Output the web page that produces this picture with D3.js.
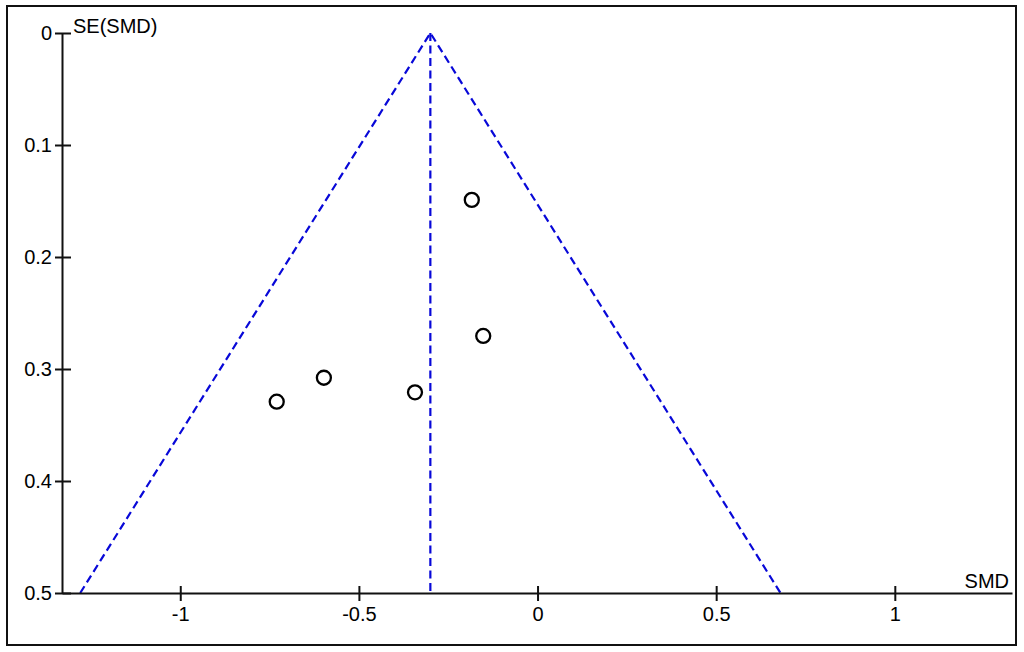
<!DOCTYPE html>
<html><head><meta charset="utf-8">
<script src="https://cdn.jsdelivr.net/npm/d3@7"></script>
<style>body{margin:0;background:#fff}svg{display:block}text{font-family:"Liberation Sans",Arial,sans-serif;fill:#000}</style>
</head><body>
<svg id="c" width="1024" height="652"></svg>
<script>
const smd = [-0.184, -0.152, -0.598, -0.730, -0.343];
const se = [0.149, 0.2705, 0.3078, 0.3292, 0.3208];
const pooled = -0.30;
const xTicks = [-1, -0.5, 0, 0.5, 1];
const xTickLabels = ["-1", "-0.5", "0", "0.5", "1"];
const yTicks = [0, 0.1, 0.2, 0.3, 0.4, 0.5];
const yTickLabels = ["0", "0.1", "0.2", "0.3", "0.4", "0.5"];
const xTitle = "SMD", yTitle = "SE(SMD)";

const svg = d3.select("#c");
svg.append("rect").attr("x", 7).attr("y", 6).attr("width", 1009).attr("height", 639)
  .attr("fill", "none").attr("stroke", "#111").attr("stroke-width", 2);

const x = d3.scaleLinear().domain([-1.331, 1.328]).range([62, 1012]);
const y = d3.scaleLinear().domain([0, 0.5]).range([33, 593]);

const FS = 20;
// funnel
const maxSE = 0.5;
const blue = "#0808d8";
const dash = "8,4.5";
const funnel = [[pooled - 1.96 * maxSE, maxSE], [pooled, 0], [pooled + 1.96 * maxSE, maxSE]];
svg.append("path").attr("d", d3.line().x(d => x(d[0])).y(d => y(d[1]))(funnel))
  .attr("fill", "none").attr("stroke", blue).attr("stroke-width", 2.2).attr("stroke-dasharray", dash);
svg.append("line").attr("x1", x(pooled)).attr("x2", x(pooled)).attr("y1", y(0)).attr("y2", y(maxSE))
  .attr("stroke", blue).attr("stroke-width", 2.2).attr("stroke-dasharray", dash);

// axes
const xAxis = d3.axisBottom(x).tickValues(xTicks).tickFormat((d, i) => xTickLabels[i]).tickSizeInner(8).tickSizeOuter(0).tickPadding(6);
const gx = svg.append("g").attr("transform", `translate(0,${y(0.5)})`).call(xAxis);
gx.select(".domain").attr("stroke", "#111").attr("stroke-width", 2);
gx.selectAll(".tick line").attr("stroke", "#111").attr("stroke-width", 2).attr("y1", -7).attr("y2", 8);
gx.selectAll(".tick text").attr("font-size", FS).attr("fill", "#000");

const yAxis = d3.axisLeft(y).tickValues(yTicks).tickFormat((d, i) => yTickLabels[i]).tickSizeInner(7).tickSizeOuter(0).tickPadding(3);
const gy = svg.append("g").attr("transform", `translate(${x.range()[0]},0)`).call(yAxis);
gy.select(".domain").attr("stroke", "#111").attr("stroke-width", 2);
gy.selectAll(".tick line").attr("stroke", "#111").attr("stroke-width", 2).attr("x1", 9).attr("x2", -7);
gy.selectAll(".tick text").attr("font-size", FS).attr("fill", "#000");
gx.attr("font-family", null); gy.attr("font-family", null);

svg.append("text").attr("x", 73).attr("y", 33).attr("font-size", FS).text(yTitle);
svg.append("text").attr("x", 1009).attr("y", 588).attr("text-anchor", "end").attr("font-size", FS).text(xTitle);

// points
svg.append("g").selectAll("circle").data(smd).join("circle")
  .attr("cx", d => x(d)).attr("cy", (d, i) => y(se[i])).attr("r", 7)
  .attr("fill", "none").attr("stroke", "#000").attr("stroke-width", 2.3);
</script>
</body></html>
